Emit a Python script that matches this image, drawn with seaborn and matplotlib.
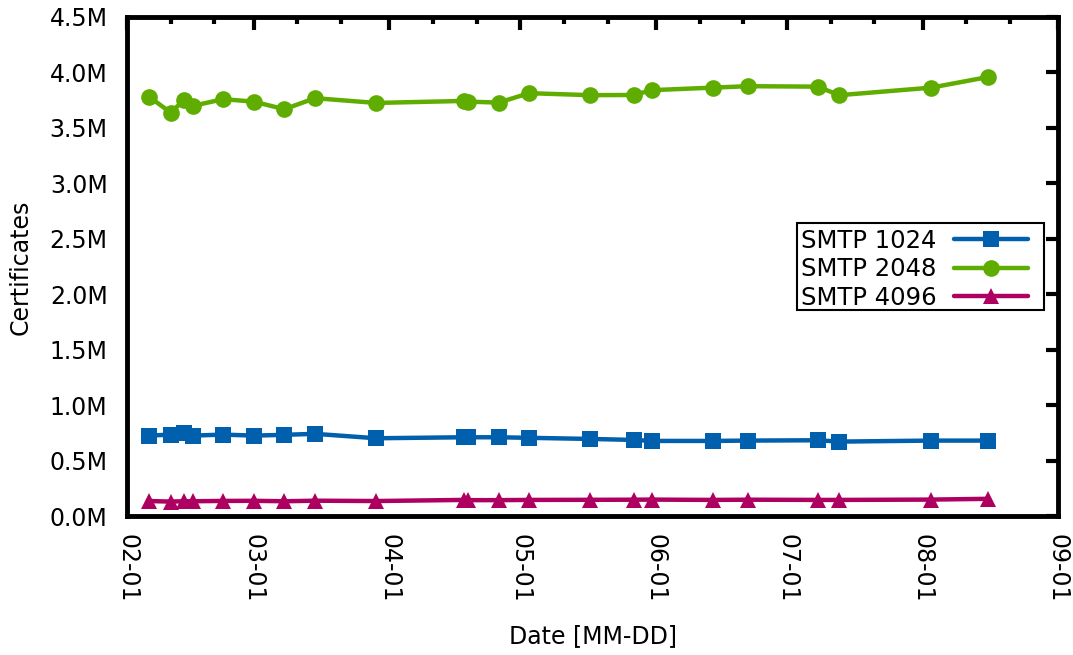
import matplotlib
matplotlib.use("Agg")
import matplotlib.pyplot as plt
import matplotlib.dates as mdates
import matplotlib.ticker as mticker
from matplotlib.patches import Rectangle
import numpy as np
import pandas as pd
import seaborn as sns

dates = ["2016-02-06", "2016-02-11", "2016-02-14", "2016-02-16", "2016-02-23",
         "2016-03-01", "2016-03-08", "2016-03-15", "2016-03-29", "2016-04-18",
         "2016-04-19", "2016-04-26", "2016-05-03", "2016-05-17", "2016-05-27",
         "2016-05-31", "2016-06-14", "2016-06-22", "2016-07-08", "2016-07-13",
         "2016-08-03", "2016-08-16"]

smtp_1024 = [0.725, 0.734, 0.746, 0.725, 0.734, 0.725, 0.732, 0.741, 0.701, 0.710,
             0.710, 0.710, 0.705, 0.695, 0.686, 0.677, 0.677, 0.680, 0.683, 0.671,
             0.680, 0.680]
smtp_2048 = [3.782, 3.638, 3.750, 3.698, 3.759, 3.737, 3.668, 3.768, 3.725, 3.743,
             3.737, 3.728, 3.813, 3.795, 3.797, 3.840, 3.863, 3.876, 3.872, 3.795,
             3.863, 3.959]
smtp_4096 = [0.135, 0.130, 0.133, 0.133, 0.136, 0.137, 0.133, 0.138, 0.135, 0.145,
             0.143, 0.143, 0.145, 0.146, 0.147, 0.148, 0.145, 0.147, 0.145, 0.145,
             0.148, 0.155]

series_names = ["SMTP 1024", "SMTP 2048", "SMTP 4096"]
colors = ["#0060ad", "#5fad00", "#ad0060"]
markers = ["s", "o", "^"]

frames = []
for name, vals in zip(series_names, [smtp_1024, smtp_2048, smtp_4096]):
    frames.append(pd.DataFrame({"date": pd.to_datetime(dates),
                                "value": np.array(vals) * 1e6,
                                "series": name}))
df = pd.concat(frames, ignore_index=True)

sns.set_theme(style="white")
plt.rcParams["font.family"] = ["DejaVu Sans"]
plt.rcParams["font.size"] = 17
plt.rcParams["text.color"] = "black"
plt.rcParams["axes.labelcolor"] = "black"
plt.rcParams["xtick.color"] = "black"
plt.rcParams["ytick.color"] = "black"

W, H = 1073, 655
fig = plt.figure(figsize=(W / 100, H / 100), dpi=100)
ax = fig.add_axes([127 / W, 1 - 516 / H, (1058 - 127) / W, (516 - 17) / H])

sns.lineplot(data=df, x="date", y="value", hue="series", style="series",
             palette=dict(zip(series_names, colors)),
             markers=dict(zip(series_names, markers)), dashes=False,
             linewidth=3.2, markersize=12, markeredgewidth=0, ax=ax, legend=True)

ax.set_xlim(pd.Timestamp("2016-02-01"), pd.Timestamp("2016-09-01"))
ax.set_ylim(0, 4.5e6)
ax.xaxis.set_major_locator(mdates.MonthLocator())
ax.xaxis.set_minor_locator(mdates.DayLocator(bymonthday=[11, 21]))
ax.xaxis.set_major_formatter(mdates.DateFormatter("%m-%d"))
ax.yaxis.set_major_locator(mticker.MultipleLocator(0.5e6))
ax.yaxis.set_major_formatter(mticker.FuncFormatter(lambda v, p: f"{v/1e6:.1f}M"))

ax.tick_params(which="both", direction="in", top=True, right=True,
               colors="black", labelsize=17, width=3)
ax.tick_params(which="major", length=9)
ax.tick_params(which="minor", length=5)
ax.tick_params(axis="x", which="major", pad=13)
ax.tick_params(axis="y", which="major", pad=14)
for lab in ax.get_xticklabels():
    lab.set_rotation(270)
    lab.set_va("top")
    lab.set_ha("center")
for s in ax.spines.values():
    s.set_linewidth(3.5)
    s.set_color("black")

ax.set_xlabel("Date [MM-DD]", fontsize=17, color="black")
ax.set_ylabel("Certificates", fontsize=17, color="black")
ax.xaxis.set_label_coords(593 / W, 1 - 636 / H, transform=fig.transFigure)
ax.xaxis.label.set_va("center")
ax.yaxis.set_label_coords(21 / W, 1 - 267 / H, transform=fig.transFigure)
ax.yaxis.label.set_va("center")

handles, labels = ax.get_legend_handles_labels()
leg = ax.legend(handles, labels, loc="upper left",
                bbox_to_anchor=(801 / W, 1 - 229 / H),
                bbox_transform=fig.transFigure, markerfirst=False,
                frameon=False, fontsize=17.5, handlelength=3.05,
                handletextpad=0.72, borderpad=0, labelspacing=0.18,
                borderaxespad=0)
for t in leg.get_texts():
    t.set_color("black")
box = Rectangle((797 / W, 1 - 310 / H), (1044 - 797) / W, (310 - 223) / H,
                transform=fig.transFigure, fill=True, facecolor="white",
                edgecolor="black", linewidth=1.5, zorder=4, clip_on=False)
ax.add_artist(box)
leg.set_zorder(6)

fig.savefig("out.png", dpi=100)
